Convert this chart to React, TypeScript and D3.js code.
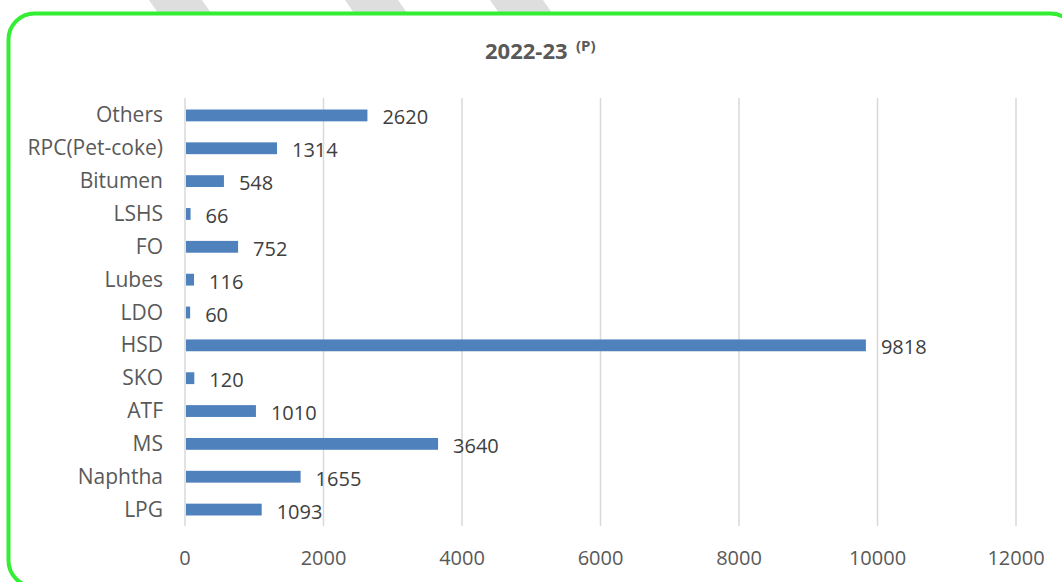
import React, { useEffect, useRef } from "react";
import * as d3 from "d3";

const categories = [
  "Others",
  "RPC(Pet-coke)",
  "Bitumen",
  "LSHS",
  "FO",
  "Lubes",
  "LDO",
  "HSD",
  "SKO",
  "ATF",
  "MS",
  "Naphtha",
  "LPG",
];
const values = [2620, 1314, 548, 66, 752, 116, 60, 9818, 120, 1010, 3640, 1655, 1093];
const xTicks = [0, 2000, 4000, 6000, 8000, 10000, 12000];
const stripeStarts = [149, 345, 490];

const W = 1062;
const H = 582;
const FONT = "'Open Sans', sans-serif";

const App: React.FC = () => {
  const svgRef = useRef<SVGSVGElement | null>(null);

  useEffect(() => {
    if (!svgRef.current) return;
    const svg = d3.select(svgRef.current);
    svg.selectAll("*").remove();

    // background stripes peeking above the frame
    svg
      .selectAll(".stripe")
      .data(stripeStarts)
      .enter()
      .append("polygon")
      .attr("points", (x) => `${x},0 ${x + 53},0 ${x + 62},13 ${x + 9},13`)
      .attr("fill", "#dedede");

    // frame
    svg
      .append("rect")
      .attr("x", 8.5)
      .attr("y", 13.5)
      .attr("width", 1068)
      .attr("height", 573)
      .attr("rx", 26)
      .attr("fill", "#ffffff")
      .attr("stroke", "#33ee33")
      .attr("stroke-width", 4);

    const x = d3.scaleLinear().domain([0, 12000]).range([185, 1016]);
    const y = d3
      .scaleBand<string>()
      .domain(categories)
      .range([99, 526])
      .paddingInner(0.64)
      .paddingOuter(0.32);

    // gridlines
    svg
      .selectAll(".grid")
      .data(xTicks)
      .enter()
      .append("line")
      .attr("x1", (d) => x(d))
      .attr("x2", (d) => x(d))
      .attr("y1", 98)
      .attr("y2", 526)
      .attr("stroke", "#d9d9d9")
      .attr("stroke-width", 1.5);

    // tick labels
    svg
      .selectAll(".tick")
      .data(xTicks)
      .enter()
      .append("text")
      .attr("x", (d) => x(d))
      .attr("y", 565)
      .attr("text-anchor", "middle")
      .attr("font-family", FONT)
      .attr("font-size", 20)
      .attr("fill", "#595959")
      .text((d) => String(d));

    // category labels
    svg
      .selectAll(".cat")
      .data(categories)
      .enter()
      .append("text")
      .attr("x", 163)
      .attr("y", (d) => (y(d) ?? 0) + y.bandwidth() / 2 + 7)
      .attr("text-anchor", "end")
      .attr("font-family", FONT)
      .attr("font-size", 21)
      .attr("fill", "#595959")
      .text((d) => d);

    // bars
    svg
      .selectAll(".bar")
      .data(values)
      .enter()
      .append("rect")
      .attr("x", x(0) + 1)
      .attr("y", (_, i) => y(categories[i]) ?? 0)
      .attr("width", (d) => x(d) - x(0))
      .attr("height", y.bandwidth())
      .attr("fill", "#4f81bd");

    // value labels
    svg
      .selectAll(".val")
      .data(values)
      .enter()
      .append("text")
      .attr("x", (d) => x(d) + 16)
      .attr("y", (_, i) => (y(categories[i]) ?? 0) + y.bandwidth() / 2 + 9)
      .attr("font-family", FONT)
      .attr("font-size", 20)
      .attr("fill", "#404040")
      .text((d) => String(d));

    // title
    const title = svg
      .append("text")
      .attr("x", 485)
      .attr("y", 59)
      .attr("font-family", FONT)
      .attr("font-weight", "bold")
      .attr("fill", "#595959");
    title.append("tspan").attr("font-size", 22).text("2022-23");
    title
      .append("tspan")
      .attr("x", 576)
      .attr("y", 51)
      .attr("font-size", 15)
      .text("(P)");
  }, []);

  return (
    <svg
      ref={svgRef}
      width={W}
      height={H}
      style={{ position: "absolute", left: 0, top: 0, background: "#ffffff" }}
    />
  );
};

export default App;
